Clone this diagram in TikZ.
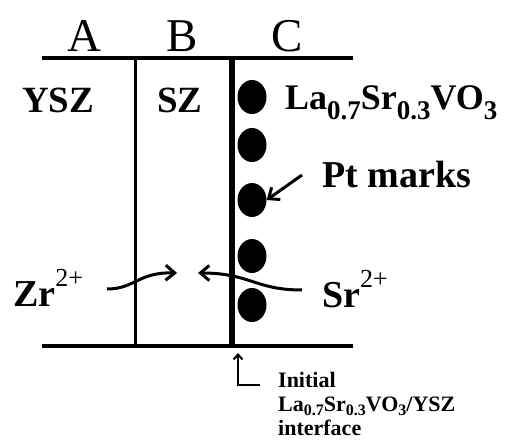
\documentclass[tikz,border=0pt]{standalone}
\usepackage{fontspec}
\setmainfont{Liberation Serif}
\usetikzlibrary{arrows.meta,shapes.geometric}
\newcommand\mysub[3]{{\fontsize{#1}{#1}\selectfont\raisebox{-#2}{#3}}}
\newcommand\mysup[3]{{\mdseries\fontsize{#1}{#1}\selectfont\raisebox{#2}{#3}}}
\begin{document}
\begin{tikzpicture}[x=1pt,y=-1pt,
  frame/.style={line width=4pt},
  thinwall/.style={line width=3pt},
  thickwall/.style={line width=5.5pt},
  hdr/.style={font=\fontsize{47}{47}\selectfont, inner sep=0pt, anchor=base},
  lbl/.style={font=\bfseries\fontsize{37}{37}\selectfont, inner sep=0pt, anchor=base},
  ion/.style={font=\bfseries\fontsize{38}{38}\selectfont, inner sep=0pt, anchor=base west},
  ptmark/.style={ellipse, fill=black, minimum width=29pt, minimum height=34pt, inner sep=0pt},
  flow/.style={line width=3pt, -{Straight Barb[length=9pt,width=15pt,line width=3pt]}},
  marker/.style={line width=2pt, -{Straight Barb[length=5pt,width=9pt,line width=2pt]}},
  note/.style={font=\bfseries\fontsize{22}{23}\selectfont, align=left, inner sep=0pt, anchor=north west},
]
\useasboundingbox (0,0) rectangle (506,446);

% frame lines
\draw[frame] (42,58) -- (353,58);
\draw[frame] (42,346) -- (353,346);
\draw[thinwall] (135,58) -- (135,346);
\draw[thickwall] (232,58) -- (232,346);

% headers
\node[hdr] (hA) at (84,52) {A};
\node[hdr] (hB) at (182,52) {B};
\node[hdr] (hC) at (287,52) {C};

% region labels
\node[lbl] (ysz) at (58,113) {YSZ};
\node[lbl] (sz) at (180,113) {SZ};
\node[inner sep=0pt, anchor=base west, font=\bfseries\fontsize{36}{36}\selectfont] (lsv) at (285,110)
  {La\mysub{27}{10pt}{0.7}Sr\mysub{27}{10pt}{0.3}VO\mysub{27}{10pt}{3}};

% Pt marks
\node[ptmark] (m1) at (252,97) {};
\node[ptmark] (m2) at (252,145) {};
\node[ptmark] (m3) at (252,200) {};
\node[ptmark] (m4) at (252,256) {};
\node[ptmark] (m5) at (252,305) {};

\node[ion] (pt) at (322,188) {Pt marks};
\coordinate (ptfrom) at (302,175);
\draw[flow] (ptfrom) -- (m3.east);

% ions
\node[ion] (zr) at (13,307) {Zr\mysup{26}{20pt}{2+}};
\node[ion] (sr) at (322,308) {Sr\mysup{26}{20pt}{2+}};
\coordinate (zrfrom) at (107,289);
\coordinate (zrto) at (177,273);
\coordinate (srfrom) at (302,290);
\coordinate (srto) at (198,273);
\draw[flow] (zrfrom) .. controls (135,289) and (138,272) .. (zrto);
\draw[flow] (srfrom) .. controls (255,290) and (250,273) .. (srto);

% initial interface marker
\coordinate (iface) at (238,353);
\coordinate (cornerL) at (238,385);
\coordinate (cornerR) at (260,385);
\draw[marker] (cornerR) -- (cornerL) -- (iface);
\node[note] (nt) at (278,372)
  {Initial\\[1pt]La\mysub{16}{4pt}{0.7}Sr\mysub{16}{4pt}{0.3}VO\mysub{16}{4pt}{3}/YSZ\\[1pt]interface};
\end{tikzpicture}
\end{document}
